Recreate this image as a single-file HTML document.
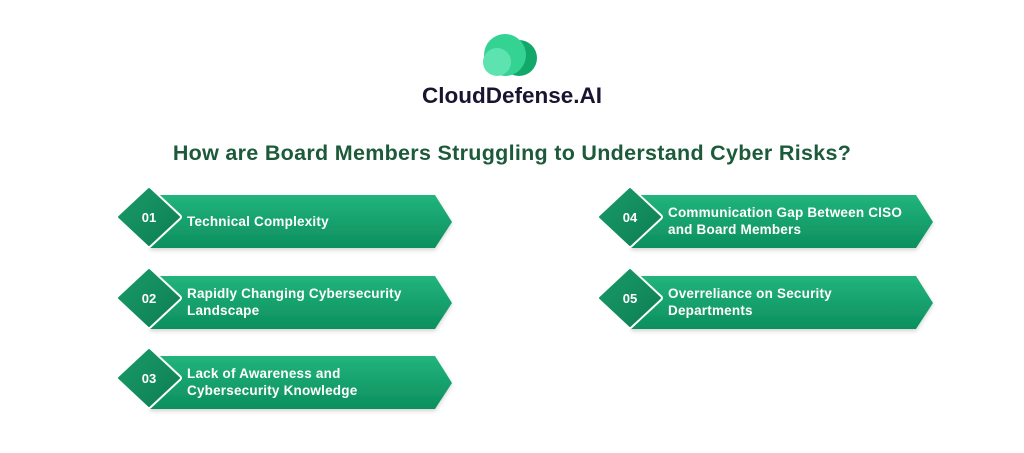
<!DOCTYPE html>
<html><head><style>
html,body{margin:0;padding:0;background:#fff;}
svg{display:block;}
</style></head><body>
<svg width="1024" height="453" viewBox="0 0 1024 453" xmlns="http://www.w3.org/2000/svg" font-family="Liberation Sans, sans-serif">
<defs>
<linearGradient id="bg" x1="0" y1="0" x2="0" y2="1">
<stop offset="0" stop-color="#22b47c"/><stop offset="1" stop-color="#0c8f5e"/>
</linearGradient>
<linearGradient id="dg" x1="0" y1="0" x2="1" y2="1">
<stop offset="0" stop-color="#1a9a68"/><stop offset="1" stop-color="#0d7f52"/>
</linearGradient>
<filter id="sh" x="-10%" y="-20%" width="120%" height="150%"><feDropShadow dx="0" dy="2" stdDeviation="2" flood-color="#000" flood-opacity="0.18"/></filter>
<g id="item">
<path d="M150,195 L435,195 L452,222 L435,248 L150,248 Z" fill="url(#bg)" filter="url(#sh)"/>
<path d="M149,189 L179,217 L149,245 L119,217 Z" fill="url(#dg)" stroke="#fff" stroke-width="6" stroke-linejoin="round"/>
<path d="M149,189 L179,217 L149,245 L119,217 Z" fill="url(#dg)" stroke="url(#dg)" stroke-width="2" stroke-linejoin="round"/>
</g>
</defs>
<!-- logo -->
<circle cx="519" cy="58" r="18" fill="#12a86a"/>
<circle cx="505" cy="55" r="21" fill="#34d394"/>
<circle cx="497" cy="62" r="14" fill="#5de3b0"/>
<text x="512" y="103" text-anchor="middle" font-size="22.5" font-weight="bold" fill="#1a1430">CloudDefense.AI</text>
<text x="512" y="160" text-anchor="middle" font-size="21.5" font-weight="bold" fill="#1d5a3a" letter-spacing="0.3">How are Board Members Struggling to Understand Cyber Risks?</text>

<use href="#item"/>
<use href="#item" y="81"/>
<use href="#item" y="161"/>
<use href="#item" x="481"/>
<use href="#item" x="481" y="81"/>

<g fill="#fff" font-weight="bold">
<text x="149" y="222" text-anchor="middle" font-size="13">01</text>
<text x="149" y="303" text-anchor="middle" font-size="13">02</text>
<text x="149" y="383" text-anchor="middle" font-size="13">03</text>
<text x="630" y="222" text-anchor="middle" font-size="13">04</text>
<text x="630" y="303" text-anchor="middle" font-size="13">05</text>
<g font-size="13.5" letter-spacing="0.2">
<text x="187" y="226">Technical Complexity</text>
<text x="187" y="298">Rapidly Changing Cybersecurity</text>
<text x="187" y="315">Landscape</text>
<text x="187" y="378">Lack of Awareness and</text>
<text x="187" y="395">Cybersecurity Knowledge</text>
<text x="668" y="217">Communication Gap Between CISO</text>
<text x="668" y="234">and Board Members</text>
<text x="668" y="298">Overreliance on Security</text>
<text x="668" y="315">Departments</text>
</g>
</g>
</svg>
</body></html>
